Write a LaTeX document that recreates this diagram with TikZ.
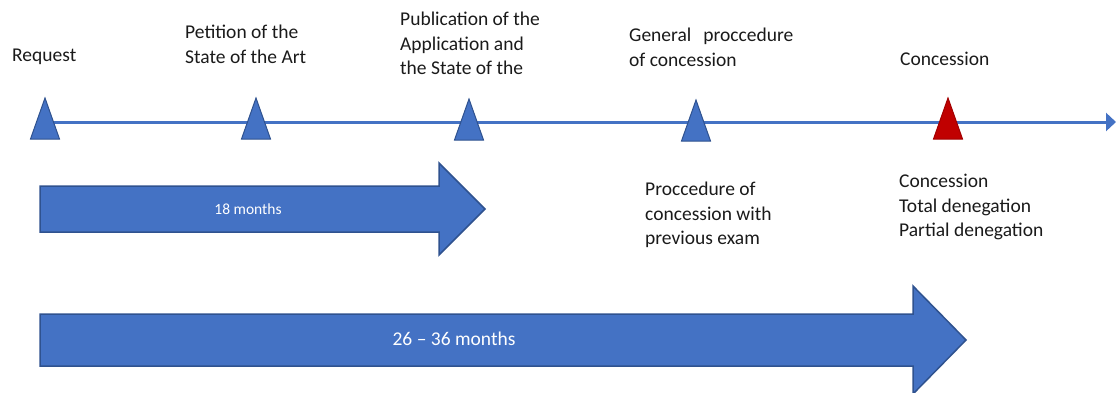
\documentclass[tikz,border=0pt]{standalone}
\usepackage{fontspec}
\setmainfont{Carlito}
\usetikzlibrary{arrows.meta}
\definecolor{offblue}{HTML}{4472C4}
\definecolor{offdark}{HTML}{2F528F}
\definecolor{offred}{HTML}{C00000}
\definecolor{txt}{HTML}{1A1A1A}
\begin{document}
\begin{tikzpicture}[x=1pt,y=-1pt,
  lbl/.style={anchor=north west,inner sep=0pt,align=left,text=txt,
    font=\fontsize{19.5}{24.5}\selectfont},
  timeline/.style={draw=offblue,line width=3pt,-{Triangle[length=10pt,width=18pt]}},
  marker/.style={fill=offblue,draw=offdark,line width=1pt,line join=miter},
  redmarker/.style={fill=offred,draw=offred!85!black,line width=1pt},
  fatarrow/.style={fill=offblue,draw=offdark,line width=1.5pt,line join=miter},
  armlabel/.style={text=white,inner sep=0pt}]
\useasboundingbox (0,0) rectangle (1116,392);
\clip (0,0) rectangle (1116,392);

% timeline
\coordinate (tstart) at (45,122);
\coordinate (tend) at (1116,122);
\draw[timeline] (tstart) -- (tend);

% markers
\foreach \cx/\ay/\by in {45/98/139, 256/98/139, 469/99/140, 696/100/141}{
  \path[marker] (\cx,\ay) -- (\cx-14.5,\by) -- (\cx+14.5,\by) -- cycle;
}
\path[redmarker] (948,98) -- (933.5,139) -- (962.5,139) -- cycle;

% labels above
\node[lbl] (request) at (12,44.5) {\strut Request};
\node[lbl] (petition) at (185,21.5) {\strut Petition of the\\\strut State of the Art};
\node[lbl] (publication) at (400,8.5) {\strut Publication of the\\\strut Application and\\\strut the State of the};
\node[lbl] (general) at (629,24.5) {\strut General\hspace{12pt}proccedure\\\strut of concession};
\node[lbl] (concession) at (900,48.5) {\strut Concession};

% labels below
\node[lbl] (proccedure) at (645,178.5) {\strut Proccedure of\\\strut concession with\\\strut previous exam};
\node[lbl] (outcomes) at (899,170.5) {\strut Concession\\\strut Total denegation\\\strut Partial denegation};

% fat arrows
\path[fatarrow] (40,186) -- (439,186) -- (439,163) -- (485,209) -- (439,255) -- (439,232) -- (40,232) -- cycle;
\node[armlabel,font=\fontsize{15.5}{19}\selectfont] (m18) at (248,209) {18 months};

\path[fatarrow] (40,314) -- (913,314) -- (913,286) -- (966,340) -- (913,394) -- (913,366) -- (40,366) -- cycle;
\node[armlabel,font=\fontsize{19.5}{24}\selectfont] (m26) at (454,339) {26 -- 36 months};
\end{tikzpicture}
\end{document}
